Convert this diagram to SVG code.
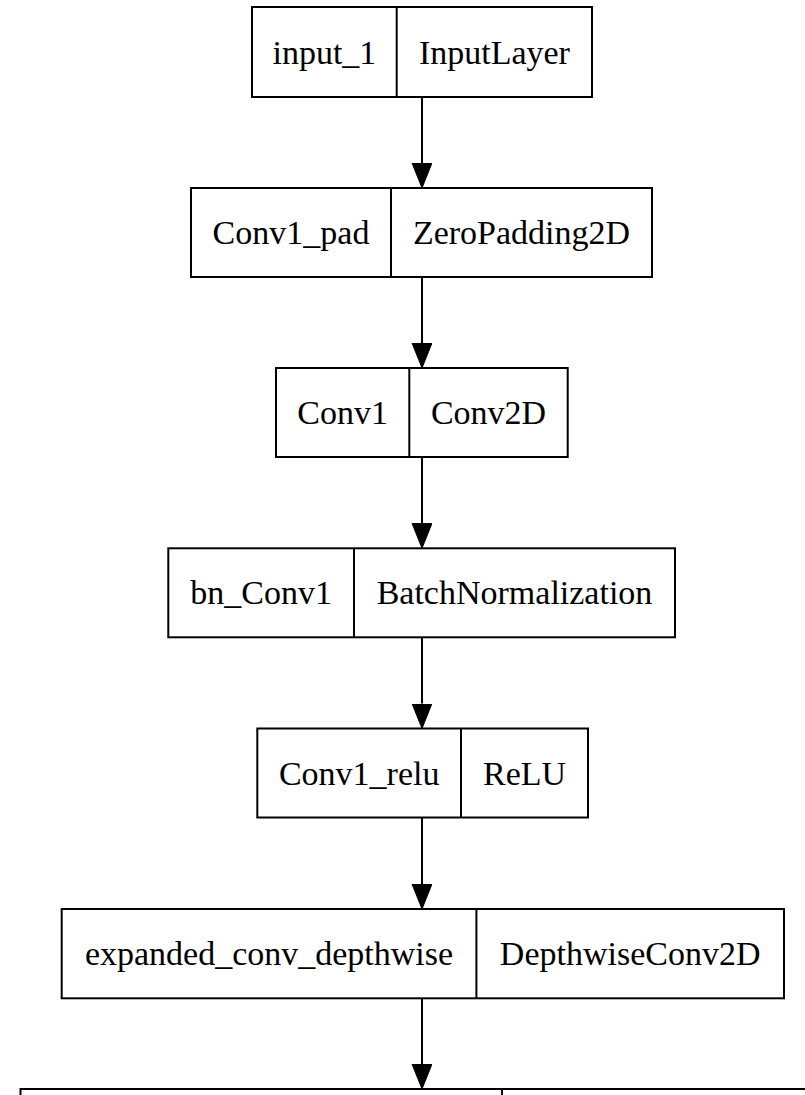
<svg xmlns="http://www.w3.org/2000/svg" width="805" height="1095" viewBox="0 0 805 1095">
  <style>
    .box { fill: #ffffff; stroke: #000000; stroke-width: 2; }
    .div { stroke: #000000; stroke-width: 2; }
    .lbl { font-family: "Liberation Serif", "Times New Roman", serif; font-size: 34px; fill: #000000; text-anchor: middle; }
    .edge { stroke: #000000; stroke-width: 2; fill: none; }
  </style>
  <defs>
    <marker id="arrow" markerUnits="userSpaceOnUse" markerWidth="26" markerHeight="22" refX="0" refY="10" orient="auto" viewBox="0 0 26 22">
      <path d="M0,0 L25,10 L0,20 z" fill="#000000" stroke="#000000" stroke-width="1"/>
    </marker>
  </defs>
  <rect width="805" height="1095" fill="#ffffff"/>

  <g id="connectors">
    <line class="edge" x1="422" y1="97" x2="422" y2="163" marker-end="url(#arrow)"/>
    <line class="edge" x1="422" y1="277" x2="422" y2="343" marker-end="url(#arrow)"/>
    <line class="edge" x1="422" y1="457" x2="422" y2="523.3" marker-end="url(#arrow)"/>
    <line class="edge" x1="422" y1="637.3" x2="422" y2="703.5" marker-end="url(#arrow)"/>
    <line class="edge" x1="422" y1="817.5" x2="422" y2="884" marker-end="url(#arrow)"/>
    <line class="edge" x1="422" y1="998.3" x2="422" y2="1064" marker-end="url(#arrow)"/>
  </g>

  <g id="node-input_1">
    <rect class="box" x="252" y="7" width="340" height="90"/>
    <line class="div" x1="396.7" y1="7" x2="396.7" y2="97"/>
    <text class="lbl" x="324.4" y="63.5">input_1</text>
    <text class="lbl" x="494.4" y="63.5">InputLayer</text>
  </g>

  <g id="node-Conv1_pad">
    <rect class="box" x="191" y="188" width="461" height="89"/>
    <line class="div" x1="391" y1="188" x2="391" y2="277"/>
    <text class="lbl" x="291" y="244">Conv1_pad</text>
    <text class="lbl" x="521.5" y="244">ZeroPadding2D</text>
  </g>

  <g id="node-Conv1">
    <rect class="box" x="276" y="368" width="291.7" height="89"/>
    <line class="div" x1="409.3" y1="368" x2="409.3" y2="457"/>
    <text class="lbl" x="342.7" y="424">Conv1</text>
    <text class="lbl" x="488.5" y="424">Conv2D</text>
  </g>

  <g id="node-bn_Conv1">
    <rect class="box" x="168.3" y="548.3" width="506.7" height="89"/>
    <line class="div" x1="354" y1="548.3" x2="354" y2="637.3"/>
    <text class="lbl" x="261.2" y="604.3">bn_Conv1</text>
    <text class="lbl" x="514.5" y="604.3">BatchNormalization</text>
  </g>

  <g id="node-Conv1_relu">
    <rect class="box" x="257.3" y="728.5" width="330.7" height="89"/>
    <line class="div" x1="461" y1="728.5" x2="461" y2="817.5"/>
    <text class="lbl" x="359.2" y="784.5">Conv1_relu</text>
    <text class="lbl" x="524.5" y="784.5">ReLU</text>
  </g>

  <g id="node-expanded_conv_depthwise">
    <rect class="box" x="61.7" y="909" width="722.3" height="89.3"/>
    <line class="div" x1="476.4" y1="909" x2="476.4" y2="998.3"/>
    <text class="lbl" x="269" y="965">expanded_conv_depthwise</text>
    <text class="lbl" x="630.2" y="965">DepthwiseConv2D</text>
  </g>

  <g id="node-next">
    <rect class="box" x="20.5" y="1089" width="820" height="90"/>
    <line class="div" x1="502" y1="1089" x2="502" y2="1179"/>
  </g>
</svg>
